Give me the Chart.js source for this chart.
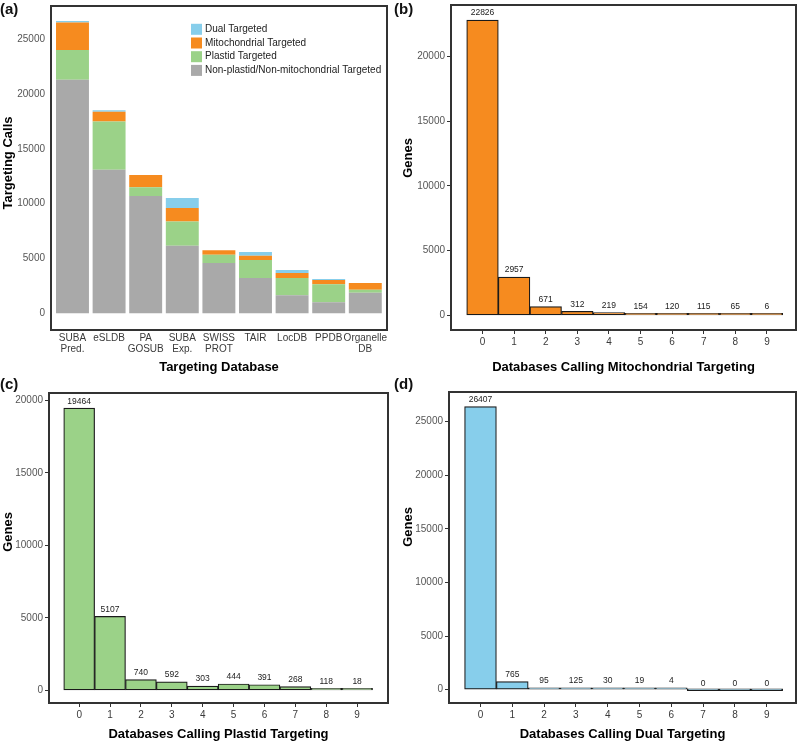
<!DOCTYPE html>
<html>
<head>
<meta charset="utf-8">
<script src="https://cdn.jsdelivr.net/npm/chart.js@4.4.1/dist/chart.umd.min.js"></script>
<style>
    body { margin: 0; background: #fff; width: 799px; height: 742px; position: relative; overflow: hidden; font-family: "Liberation Sans", Arial, sans-serif; }
    canvas { position: absolute; }
    .tag { position: absolute; font-weight: bold; font-size: 15px; line-height: 15px; color: #111; }
</style>
</head>
<body>
<canvas id="chart-a" width="400" height="385" style="left:0;top:-10px"></canvas>
<canvas id="chart-b" width="399" height="385" style="left:400px;top:-10px"></canvas>
<canvas id="chart-c" width="400" height="367" style="left:0;top:375px"></canvas>
<canvas id="chart-d" width="399" height="367" style="left:400px;top:375px"></canvas>
<div class="tag" style="left:0;top:1px">(a)</div>
<div class="tag" style="left:394px;top:1px">(b)</div>
<div class="tag" style="left:0;top:376px">(c)</div>
<div class="tag" style="left:394px;top:376px">(d)</div>
<script>
// start: data
const databases = [['SUBA', 'Pred.'], 'eSLDB', ['PA', 'GOSUB'], ['SUBA', 'Exp.'], ['SWISS', 'PROT'], 'TAIR', 'LocDB', 'PPDB', ['Organelle', 'DB']]
const nonTargeted = [21300, 13096, 10698, 6165, 4587, 3219, 1642, 1003, 1879]
const plastidTargeted = [2713, 4414, 793, 2222, 758, 1642, 1577, 1638, 273]
const mitoTargeted = [2526, 876, 1122, 1216, 400, 392, 456, 396, 611]
const dualTargeted = [130, 130, 0, 912, 0, 338, 274, 90, 0]
const callTicks = [0, 5000, 10000, 15000, 20000, 25000]

const dbCounts = [0, 1, 2, 3, 4, 5, 6, 7, 8, 9]
const mitoGenes = [22826, 2957, 671, 312, 219, 154, 120, 115, 65, 6]
const plastidGenes = [19464, 5107, 740, 592, 303, 444, 391, 268, 118, 18]
const dualGenes = [26407, 765, 95, 125, 30, 19, 4, 0, 0, 0]
const mitoTicks = [0, 5000, 10000, 15000, 20000]
const plastidTicks = [0, 5000, 10000, 15000, 20000]
const dualTicks = [0, 5000, 10000, 15000, 20000, 25000]
// end: data

const FONT = '"Liberation Sans", Arial, sans-serif'
Chart.defaults.font.family = FONT

const GRAY = '#a9a9a9'
const GREEN = '#9bd288'
const ORANGE = '#f68b1f'
const BLUE = '#87ceeb'

// panel frame drawn round the plot area
const frame = {
    id: 'frame',
    afterDatasetsDraw(chart) {
        const { ctx, chartArea: a } = chart
        ctx.save()
        ctx.strokeStyle = '#333'
        ctx.lineWidth = 2
        ctx.strokeRect(a.left, a.top, a.right - a.left, a.bottom - a.top)
        ctx.restore()
    }
}

// counts written above each histogram bar
const valueLabels = {
    id: 'valueLabels',
    afterDatasetsDraw(chart) {
        const ctx = chart.ctx
        const ds = chart.data.datasets[0]
        ctx.save()
        ctx.font = '8.5px ' + FONT
        ctx.fillStyle = '#222'
        ctx.textAlign = 'center'
        ctx.textBaseline = 'middle'
        chart.getDatasetMeta(0).data.forEach(function (bar, i) {
            ctx.fillText(String(ds.data[i].y), bar.x, bar.y - 7)
        })
        ctx.restore()
    }
}

// legend inside panel (a), top series first
const legendBox = {
    id: 'legendBox',
    afterDraw(chart) {
        const ctx = chart.ctx
        const a = chart.chartArea
        ctx.save()
        ctx.font = '10px ' + FONT
        ctx.textBaseline = 'middle'
        chart.data.datasets.slice().reverse().forEach(function (ds, i) {
            const y = a.top + 23.3 + i * 13.7
            ctx.fillStyle = ds.backgroundColor
            ctx.fillRect(a.left + 140, y - 5.5, 11, 11)
            ctx.fillStyle = '#222'
            ctx.fillText(ds.label, a.left + 154, y)
        })
        ctx.restore()
    }
}

// vertical axis title, placed a little above the panel middle like the original
const yTitle = {
    id: 'yTitle',
    afterDraw(chart, args, opts) {
        const ctx = chart.ctx
        ctx.save()
        ctx.font = 'bold 13px ' + FONT
        ctx.fillStyle = '#000'
        ctx.textAlign = 'center'
        ctx.textBaseline = 'middle'
        ctx.translate(opts.x, opts.y)
        ctx.rotate(-Math.PI / 2)
        ctx.fillText(opts.text, 0, 0)
        ctx.restore()
    }
}

function fixedTicks(values) {
    return function (scale) {
        scale.ticks = values.map(function (v) { return { value: v } })
    }
}

// start: panel a
new Chart(document.getElementById('chart-a'), {
    type: 'bar',
    data: {
        datasets: [
            { label: 'Non-plastid/Non-mitochondrial Targeted', data: nonTargeted.map((v, i) => ({ x: i, y: v })), backgroundColor: GRAY },
            { label: 'Plastid Targeted', data: plastidTargeted.map((v, i) => ({ x: i, y: v })), backgroundColor: GREEN },
            { label: 'Mitochondrial Targeted', data: mitoTargeted.map((v, i) => ({ x: i, y: v })), backgroundColor: ORANGE },
            { label: 'Dual Targeted', data: dualTargeted.map((v, i) => ({ x: i, y: v })), backgroundColor: BLUE },
        ]
    },
    options: {
        responsive: false,
        animation: false,
        devicePixelRatio: 1,
        layout: { padding: { left: 0, right: 13, top: 16, bottom: 0 } },
        datasets: { bar: { barPercentage: 0.9, categoryPercentage: 1, borderWidth: 0 } },
        plugins: { legend: { display: false }, tooltip: { enabled: false }, yTitle: { text: 'Targeting Calls', x: 8, y: 173 } },
        scales: {
            x: {
                type: 'linear', stacked: true, offset: false, min: -0.587, max: 8.593,
                border: { display: false },
                grid: { display: false, tickLength: 0 },
                ticks: { autoSkip: false, maxRotation: 0, padding: 2, color: '#3a3a3a', font: { size: 10, lineHeight: 1.17 }, callback: v => databases[v] },
                afterBuildTicks: fixedTicks(databases.map((d, i) => i)),
                afterFit: s => { s.height = 45 },
                title: { display: true, text: 'Targeting Database', color: '#000', padding: 0, font: { size: 13, weight: 'bold' } }
            },
            y: {
                stacked: true, min: -1524, max: 28038,
                border: { display: false },
                grid: { display: false, tickLength: 3 },
                ticks: { padding: 3, color: '#555', font: { size: 10 }, callback: v => String(v) },
                afterBuildTicks: fixedTicks(callTicks),
                afterFit: s => { s.width = 51 }
            }
        }
    },
    plugins: [frame, legendBox, yTitle]
});
// end: panel a

// start: histograms
function histogram(id, values, color, xTitle, yTicks, box) {
    new Chart(document.getElementById(id), {
        type: 'bar',
        data: {
            datasets: [{
                data: values.map((v, i) => ({ x: dbCounts[i], y: v })),
                backgroundColor: color,
                borderColor: '#1a1a1a',
                borderWidth: 1.2,
                borderSkipped: false,
                barPercentage: 1,
                categoryPercentage: 1,
                minBarLength: 2
            }]
        },
        options: {
            responsive: false,
            animation: false,
            devicePixelRatio: 1,
            layout: { padding: { left: 0, right: box.padRight, top: box.padTop, bottom: 0 } },
            plugins: { legend: { display: false }, tooltip: { enabled: false }, yTitle: { text: 'Genes', x: 8, y: box.titleY } },
            scales: {
                x: {
                    type: 'linear', offset: false, min: box.xMin, max: box.xMax,
                    border: { display: false },
                    grid: { drawOnChartArea: false, offset: false, tickLength: 4, color: '#333' },
                    ticks: { autoSkip: false, maxRotation: 0, padding: 2, color: '#3a3a3a', font: { size: 10 }, callback: v => String(v) },
                    afterBuildTicks: fixedTicks(dbCounts),
                    afterFit: s => { s.height = box.xHeight },
                    title: { display: true, text: xTitle, color: '#000', padding: 0, font: { size: 13, weight: 'bold' } }
                },
                y: {
                    min: box.yMin, max: box.yMax,
                    border: { display: false },
                    grid: { drawOnChartArea: false, tickLength: 4, color: '#333' },
                    ticks: { padding: 2, color: '#555', font: { size: 10 }, callback: v => String(v) },
                    afterBuildTicks: fixedTicks(yTicks),
                    afterFit: s => { s.width = box.yWidth }
                }
            }
        },
        plugins: [frame, valueLabels, yTitle]
    });
}

histogram('chart-b', mitoGenes, ORANGE, 'Databases Calling Mitochondrial Targeting', mitoTicks,
    { padRight: 3, padTop: 15, xHeight: 45, yWidth: 51, xMin: -0.997, xMax: 9.92, yMin: -1137, yMax: 23998, titleY: 168 })
histogram('chart-c', plastidGenes, GREEN, 'Databases Calling Plastid Targeting', plastidTicks,
    { padRight: 12, padTop: 18, xHeight: 39, yWidth: 49, xMin: -0.977, xMax: 10.0, yMin: -869, yMax: 20510, titleY: 157 })
histogram('chart-d', dualGenes, BLUE, 'Databases Calling Dual Targeting', dualTicks,
    { padRight: 3, padTop: 17, xHeight: 39, yWidth: 49, xMin: -0.99, xMax: 9.92, yMin: -1239, yMax: 27767, titleY: 152 })
// end: histograms
</script>
</body>
</html>
